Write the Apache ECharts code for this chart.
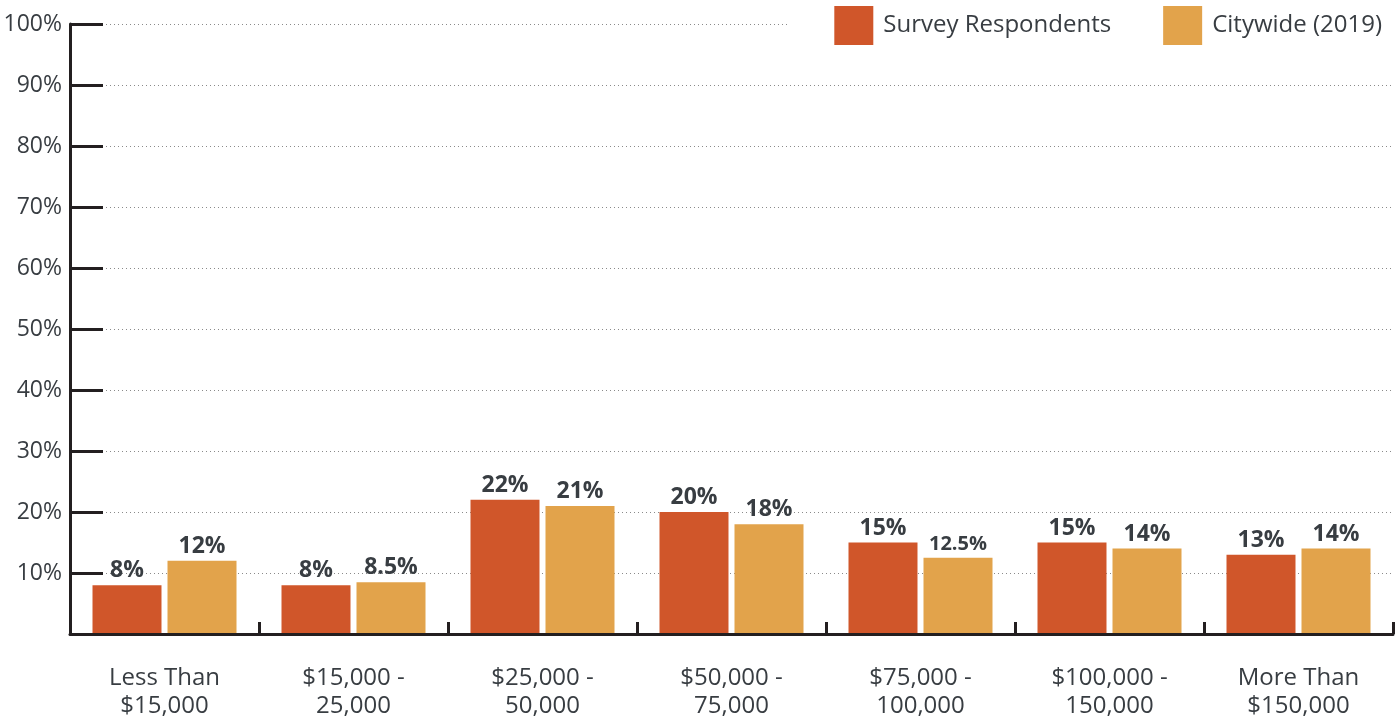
<!DOCTYPE html>
<html>
<head>
<meta charset="utf-8">
<script src="https://cdn.jsdelivr.net/npm/echarts@6/dist/echarts.min.js"></script>
<style>
html,body{margin:0;padding:0;background:#fff;}
#chart{width:1396px;height:724px;}
</style>
</head>
<body>
<div id="chart"></div>
<script>
const categories = ['Less Than\n$15,000', '$15,000 -\n25,000', '$25,000 -\n50,000', '$50,000 -\n75,000', '$75,000 -\n100,000', '$100,000 -\n150,000', 'More Than\n$150,000'];
const surveyRespondents = [8, 8, 22, 20, 15, 15, 13];
const citywide2019 = [12, 8.5, 21, 18, 12.5, 14, 14];
const seriesNames = ['Survey Respondents', 'Citywide (2019)'];

const FONT = '"Open Sans", "Noto Sans", sans-serif';
const TEXT = '#383d42';
const AXIS = '#231f20';

function labelFor(v) {
  return v + '%';
}

const chart = echarts.init(document.getElementById('chart'), null, {renderer: 'canvas'});
chart.setOption({
  animation: false,
  textStyle: {fontFamily: FONT},
  legend: {
    top: 0,
    right: 0,
    itemWidth: 39,
    itemHeight: 39,
    itemGap: 52,
    padding: [6, 14, 6, 45],
    backgroundColor: '#fff',
    icon: 'rect',
    textStyle: {fontFamily: FONT, fontSize: 24, color: TEXT, padding: [0, 0, 0, 5]},
    data: seriesNames
  },
  grid: {left: 70, right: 3, top: 24, bottom: 90, containLabel: false},
  xAxis: {
    type: 'category',
    data: categories,
    axisLine: {lineStyle: {color: AXIS, width: 3}},
    axisTick: {show: true, inside: true, length: 12, lineStyle: {color: AXIS, width: 3}},
    axisLabel: {fontFamily: FONT, fontSize: 24, color: TEXT, lineHeight: 28, margin: 30},
    z: 5
  },
  yAxis: {
    type: 'value',
    min: 0,
    max: 100,
    interval: 10,
    axisLine: {show: true, lineStyle: {color: AXIS, width: 3}},
    axisTick: {show: true, inside: true, length: 33, lineStyle: {color: AXIS, width: 3}},
    axisLabel: {
      fontFamily: FONT, fontSize: 23, color: TEXT, margin: 8,
      formatter: v => v === 0 ? '' : v + '%'
    },
    splitLine: {show: true, lineStyle: {color: '#8a8a8a', width: 1, type: [1, 3]}}
  },
  series: [
    {
      name: seriesNames[0],
      type: 'bar',
      data: surveyRespondents,
      barWidth: 69,
      barGap: '8.7%',
      itemStyle: {color: '#d0562a'},
      label: {
        show: true, position: 'top', distance: 3,
        fontFamily: FONT, fontSize: 23, fontWeight: 'bold', color: TEXT,
        formatter: p => labelFor(p.value)
      }
    },
    {
      name: seriesNames[1],
      type: 'bar',
      data: citywide2019.map(v => v === 12.5 ? {value: v, label: {fontSize: 20}} : v),
      barWidth: 69,
      barGap: '8.7%',
      itemStyle: {color: '#e2a34b'},
      label: {
        show: true, position: 'top', distance: 3,
        fontFamily: FONT, fontSize: 23, fontWeight: 'bold', color: TEXT,
        formatter: p => labelFor(p.value)
      }
    }
  ]
});
</script>
</body>
</html>
